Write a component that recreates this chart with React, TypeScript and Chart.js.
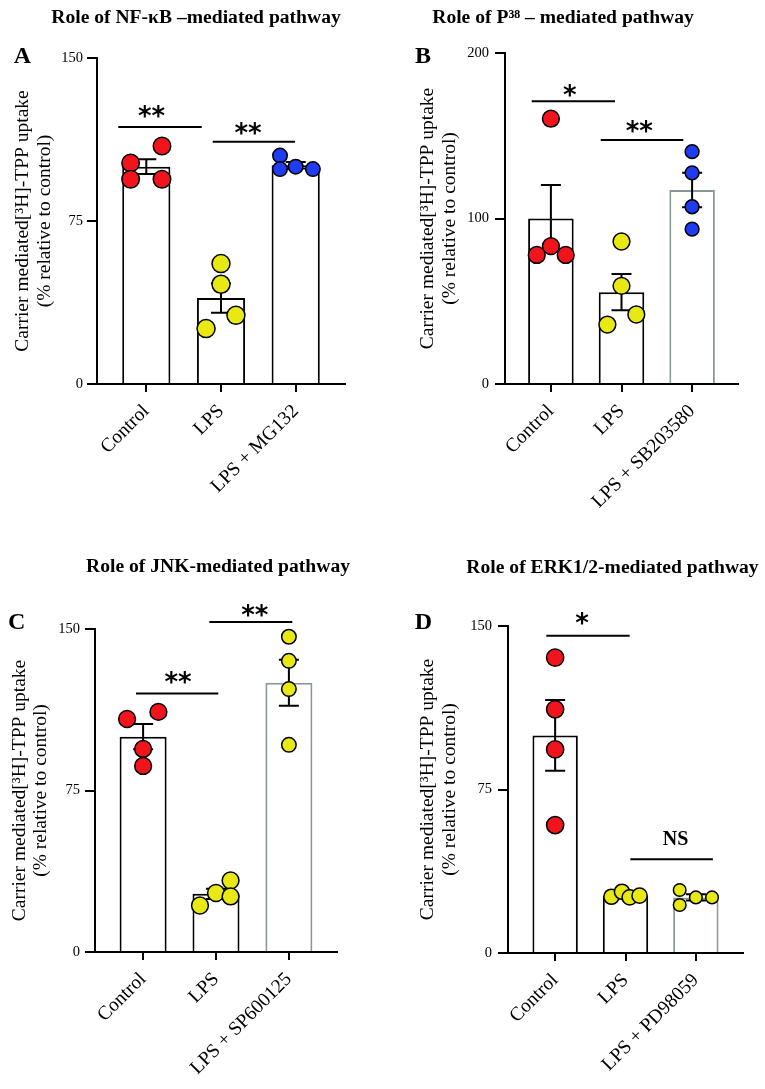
import React, { useEffect, useRef } from 'react';
import { Chart, registerables } from 'chart.js';

Chart.register(...registerables);

const SERIF = '"Liberation Serif", "Times New Roman", serif';
const RED = '#f2141c';
const YELLOW = '#e8e812';
const BLUE = '#1f3cf2';
const GRAY = '#8a9797';

const yTitleLines = ['Carrier mediated[\u00B3H]-TPP uptake', '(% relative to control)'];

// ---- Panel A: NF-kB ----
const categoriesA = ['Control', 'LPS', 'LPS + MG132'];
const meansA = [100, 39.6, 100.6];
const semA = [3.4, 6.8, 1.5];
const controlA = [101.7, 109.5, 94.2, 94.2];
const lpsA = [55.4, 45.9, 31.6, 25.5];
const mg132A = [105.1, 98.9, 100, 98.9];
const jitterControlA = [-0.21, 0.21, -0.21, 0.21];
const jitterLpsA = [0, 0, 0.2, -0.2];
const jitterMg132A = [-0.21, -0.21, 0, 0.23];
const yTicksA = [0, 75, 150];

// ---- Panel B: P38 ----
const categoriesB = ['Control', 'LPS', 'LPS + SB203580'];
const meansB = [100, 55.5, 117.2];
const semB = [20.2, 11, 10.4];
const controlB = [160.3, 83.3, 78, 78];
const lpsB = [86.1, 59.3, 42, 35.9];
const sb203580B = [140.4, 127.6, 107.1, 93.6];
const jitterControlB = [0, 0, -0.2, 0.21];
const jitterLpsB = [0, 0, 0.21, -0.2];
const jitterSbB = [0, 0, 0, 0];
const yTicksB = [0, 100, 200];

// ---- Panel C: JNK ----
const categoriesC = ['Control', 'LPS', 'LPS + SP600125'];
const meansC = [100, 27, 125];
const semC = [5.9, 2.4, 10.7];
const controlC = [108.2, 111.5, 94.3, 86.4];
const lpsC = [21.6, 27.4, 33.2, 25.8];
const sp600125C = [146.4, 135.2, 122.1, 96.2];
const jitterControlC = [-0.22, 0.21, 0, 0];
const jitterLpsC = [-0.22, 0, 0.2, 0.2];
const jitterSpC = [0, 0, 0, 0];
const yTicksC = [0, 75, 150];

// ---- Panel D: ERK1/2 ----
const categoriesD = ['Control', 'LPS', 'LPS + PD98059'];
const meansD = [99.8, 26.4, 25.5];
const semD = [16.2, 0.6, 1.4];
const controlD = [135.5, 111.8, 93.4, 58.7];
const lpsD = [25.8, 28.1, 25.5, 26.3];
const pd98059D = [28.9, 22, 25.5, 25.5];
const jitterControlD = [0, 0, 0, 0];
const jitterLpsD = [-0.2, -0.05, 0.06, 0.2];
const jitterPdD = [-0.23, -0.23, 0, 0.23];
const yTicksD = [0, 75, 150];

type Annot = { from: number; to: number; level: number; label: string; labelX: number; gap: number; font: string };

const STAR_FONT = 'bold 26px "DejaVu Sans"';
const NS_FONT = 'bold 20px ' + SERIF;

type PanelCfg = {
  left: number; top: number; width: number; height: number;
  categories: string[]; means: number[]; sems: number[];
  groups: number[][]; jitters: number[][];
  colors: string[]; radii: number[]; barBorders: string[];
  yTicks: number[]; xMin: number; xMax: number;
  padTop: number; padRight: number; chartBottom: number;
  yWidth: number; yTitlePad: number; tickPad: number;
  title: string; titleX: number; titleY: number;
  letter: string; letterX: number; letterY: number;
  annotations: Annot[];
};

const panels: PanelCfg[] = [
  {
    left: 0, top: 0, width: 380, height: 540,
    categories: categoriesA, means: meansA, sems: semA,
    groups: [controlA, lpsA, mg132A], jitters: [jitterControlA, jitterLpsA, jitterMg132A],
    colors: [RED, YELLOW, BLUE], radii: [8.75, 9, 7.25], barBorders: ['#000', '#000', '#000'],
    yTicks: yTicksA, xMin: -0.66, xMax: 2.66,
    padTop: 58, padRight: 35, chartBottom: 384,
    yWidth: 97, yTitlePad: 12, tickPad: 4,
    title: 'Role of NF-\u03BAB \u2013mediated pathway', titleX: 196, titleY: 23,
    letter: 'A', letterX: 22.5, letterY: 63.3,
    annotations: [
      { from: -0.375, to: 0.742, level: 118.3, label: '**', labelX: 0.072, gap: 8.4, font: STAR_FONT },
      { from: 0.889, to: 1.991, level: 111.5, label: '**', labelX: 1.365, gap: 6.7, font: STAR_FONT },
    ],
  },
  {
    left: 380, top: 0, width: 385, height: 540,
    categories: categoriesB, means: meansB, sems: semB,
    groups: [controlB, lpsB, sb203580B], jitters: [jitterControlB, jitterLpsB, jitterSbB],
    colors: [RED, YELLOW, BLUE], radii: [8.4, 8.4, 6.9], barBorders: ['#000', '#000', GRAY],
    yTicks: yTicksB, xMin: -0.65, xMax: 2.65,
    padTop: 53, padRight: 27, chartBottom: 384,
    yWidth: 125, yTitlePad: 37, tickPad: 6,
    title: 'Role of P\u00B3\u2078 \u2013 mediated pathway', titleX: 183, titleY: 23,
    letter: 'B', letterX: 43, letterY: 63.3,
    annotations: [
      { from: -0.272, to: 0.908, level: 170.8, label: '*', labelX: 0.271, gap: 4.6, font: STAR_FONT },
      { from: 0.706, to: 1.875, level: 147.4, label: '**', labelX: 1.255, gap: 6.7, font: STAR_FONT },
    ],
  },
  {
    left: 0, top: 540, width: 380, height: 549,
    categories: categoriesC, means: meansC, sems: semC,
    groups: [controlC, lpsC, sp600125C], jitters: [jitterControlC, jitterLpsC, jitterSpC],
    colors: [RED, YELLOW, YELLOW], radii: [8.4, 8.4, 7.25], barBorders: ['#000', '#000', GRAY],
    yTicks: yTicksC, xMin: -0.66, xMax: 2.66,
    padTop: 89, padRight: 43, chartBottom: 412,
    yWidth: 95, yTitlePad: 8.5, tickPad: 5,
    title: 'Role of JNK-mediated pathway', titleX: 218, titleY: 32.3,
    letter: 'C', letterX: 16.7, letterY: 89.3,
    annotations: [
      { from: 0.908, to: 2.047, level: 153.2, label: '**', labelX: 1.535, gap: 4.7, font: STAR_FONT },
      { from: -0.098, to: 1.031, level: 120.1, label: '**', labelX: 0.483, gap: 9, font: STAR_FONT },
    ],
  },
  {
    left: 380, top: 540, width: 385, height: 549,
    categories: categoriesD, means: meansD, sems: semD,
    groups: [controlD, lpsD, pd98059D], jitters: [jitterControlD, jitterLpsD, jitterPdD],
    colors: [RED, YELLOW, YELLOW], radii: [8.6, 7.6, 6.3], barBorders: ['#000', '#000', GRAY],
    yTicks: yTicksD, xMin: -0.67, xMax: 2.67,
    padTop: 86, padRight: 22, chartBottom: 413,
    yWidth: 128, yTitlePad: 37, tickPad: 6,
    title: 'Role of ERK1/2-mediated pathway', titleX: 232.5, titleY: 33.3,
    letter: 'D', letterX: 43.3, letterY: 89.3,
    annotations: [
      { from: -0.125, to: 1.059, level: 145.5, label: '*', labelX: 0.384, gap: 10.7, font: STAR_FONT },
      { from: 1.069, to: 2.242, level: 43, label: 'NS', labelX: 1.712, gap: 14.3, font: NS_FONT },
    ],
  },
];

function Panel({ cfg }: { cfg: PanelCfg }) {
  const ref = useRef<HTMLCanvasElement | null>(null);
  useEffect(() => {
    if (!ref.current) return;
    const cats = cfg.categories;
    const xAxisHeight = cfg.height - cfg.chartBottom;
    const overlay = {
      id: 'overlay' + cfg.letter,
      afterDatasetDraw(chart: any, args: any) {
        if (args.index !== 0) return;
        const ctx = chart.ctx;
        const xs = chart.scales.x;
        const ys = chart.scales.y;
        ctx.save();
        ctx.strokeStyle = '#000';
        ctx.lineWidth = 2;
        cfg.means.forEach((m, i) => {
          const x = xs.getPixelForValue(i);
          const yT = ys.getPixelForValue(m + cfg.sems[i]);
          const yB = ys.getPixelForValue(m - cfg.sems[i]);
          ctx.beginPath();
          ctx.moveTo(x, yT); ctx.lineTo(x, yB);
          ctx.moveTo(x - 10, yT); ctx.lineTo(x + 10, yT);
          ctx.moveTo(x - 10, yB); ctx.lineTo(x + 10, yB);
          ctx.stroke();
        });
        ctx.restore();
      },
      afterDraw(chart: any) {
        const ctx = chart.ctx;
        const xs = chart.scales.x;
        const ys = chart.scales.y;
        ctx.save();
        ctx.fillStyle = '#000';
        ctx.strokeStyle = '#000';
        ctx.lineWidth = 2;
        cfg.annotations.forEach((a) => {
          const y = ys.getPixelForValue(a.level);
          ctx.beginPath();
          ctx.moveTo(xs.getPixelForValue(a.from), y);
          ctx.lineTo(xs.getPixelForValue(a.to), y);
          ctx.stroke();
          ctx.font = a.font;
          ctx.textAlign = 'left';
          ctx.textBaseline = 'alphabetic';
          const m = ctx.measureText(a.label);
          const cx = xs.getPixelForValue(a.labelX);
          const x = cx - (m.actualBoundingBoxRight - m.actualBoundingBoxLeft) / 2;
          const base = y - a.gap - m.actualBoundingBoxDescent;
          ctx.fillText(a.label, x, base);
        });
        ctx.font = 'bold 19.6px ' + SERIF;
        ctx.textAlign = 'center';
        ctx.textBaseline = 'alphabetic';
        ctx.fillText(cfg.title, cfg.titleX, cfg.titleY);
        ctx.font = 'bold 24px ' + SERIF;
        ctx.fillText(cfg.letter, cfg.letterX, cfg.letterY);
        ctx.restore();
      },
    };

    const datasets: any[] = [
      {
        type: 'bar',
        data: cfg.means.map((m, i) => ({ x: i, y: m })),
        backgroundColor: '#ffffff',
        borderColor: cfg.barBorders,
        borderWidth: 2,
        barPercentage: 0.645,
        categoryPercentage: 1,
        order: 2,
      },
      ...cfg.groups.map((g, gi) => ({
        type: 'scatter',
        data: g.map((v, k) => ({ x: gi + cfg.jitters[gi][k], y: v })),
        pointRadius: cfg.radii[gi],
        pointBackgroundColor: cfg.colors[gi],
        pointBorderColor: '#000',
        pointBorderWidth: 1.5,
        showLine: false,
        clip: false,
        order: 1,
      })),
    ];

    const chart = new Chart(ref.current, {
      type: 'bar',
      data: { datasets },
      options: {
        animation: false,
        responsive: false,
        devicePixelRatio: 1,
        events: [],
        layout: { padding: { top: cfg.padTop, right: cfg.padRight, bottom: 0, left: 0 } },
        plugins: { legend: { display: false }, tooltip: { enabled: false }, title: { display: false } },
        scales: {
          x: {
            type: 'linear',
            min: cfg.xMin,
            max: cfg.xMax,
            offset: false,
            afterBuildTicks: (s: any) => {
              s.ticks = cats.map((_, i) => ({ value: i }));
            },
            ticks: {
              callback: (v: any) => cats[Math.round(Number(v))] ?? '',
              minRotation: 45,
              maxRotation: 45,
              autoSkip: false,
              color: '#000',
              padding: 8,
              font: { family: SERIF, size: 19.5 },
            },
            grid: { display: true, drawOnChartArea: false, drawTicks: true, tickLength: 8, lineWidth: 2, color: '#000', offset: false },
            border: { display: true, width: 2, color: '#000' },
            afterFit: (s: any) => { s.height = xAxisHeight; },
          },
          y: {
            type: 'linear',
            min: cfg.yTicks[0],
            max: cfg.yTicks[cfg.yTicks.length - 1],
            afterBuildTicks: (s: any) => {
              s.ticks = cfg.yTicks.map((v) => ({ value: v }));
            },
            ticks: { color: '#000', padding: cfg.tickPad, font: { family: SERIF, size: 14.5 } },
            grid: { display: true, drawOnChartArea: false, drawTicks: true, tickLength: 10, lineWidth: 2, color: '#000' },
            border: { display: true, width: 2, color: '#000' },
            title: {
              display: true,
              text: yTitleLines,
              color: '#000',
              font: { family: SERIF, size: 19.5, lineHeight: 1.12 },
              padding: { top: cfg.yTitlePad, bottom: 0 },
            },
            afterFit: (s: any) => { s.width = cfg.yWidth; },
          },
        },
      } as any,
      plugins: [overlay],
    } as any);
    return () => chart.destroy();
  }, [cfg]);
  return (
    <canvas
      ref={ref}
      width={cfg.width}
      height={cfg.height}
      style={{ position: 'absolute', left: cfg.left, top: cfg.top, width: cfg.width, height: cfg.height }}
    />
  );
}

export default function App() {
  return (
    <div style={{ position: 'absolute', left: 0, top: 0, width: 765, height: 1089, background: '#fff', overflow: 'hidden' }}>
      {panels.map((p) => (
        <Panel key={p.letter} cfg={p} />
      ))}
    </div>
  );
}
